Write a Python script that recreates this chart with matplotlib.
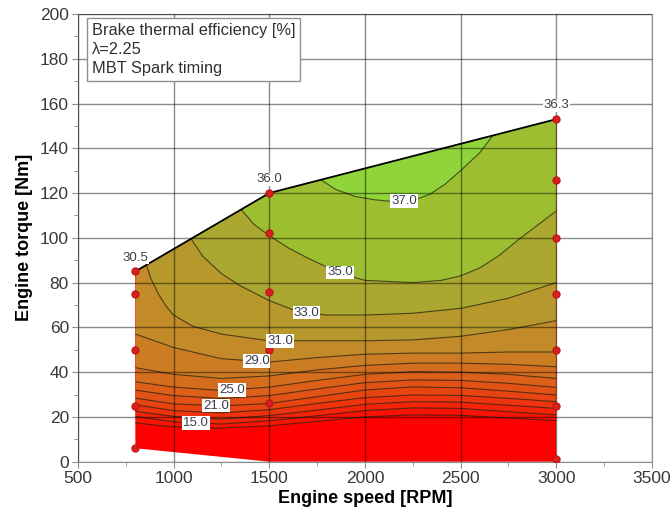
import matplotlib
matplotlib.use("Agg")
import matplotlib.pyplot as plt
from matplotlib.patches import Polygon
from matplotlib.ticker import MultipleLocator
import numpy as np

plt.rcParams['font.family'] = ['Liberation Sans', 'DejaVu Sans']

# measured operating points (torque in Nm at each speed)
tq_800 = [6, 25, 50, 75, 85]
tq_1500 = [26, 50, 76, 102, 120]
tq_3000 = [1, 25, 50, 75, 100, 126, 153]

# full load curve and its efficiency values
wot_rpm = [800, 1500, 3000]
wot_tq = [85, 120, 153]
wot_bte = [30.5, 36.0, 36.3]
# lower edge of the mapped area
low_rpm = [3000, 1500, 800]
low_tq = [0, 0, 6]

# iso-efficiency lines: torque [Nm] vs speed
rpm = [800, 1000, 1250, 1500, 1750, 2000, 2250, 2500, 2750, 3000]
t13 = [17.3, 15.5, 15.0, 16.0, 18.0, 20.0, 20.9, 20.7, 19.5, 18.3]
t15 = [20.2, 17.8, 16.8, 18.3, 20.5, 22.8, 24.0, 23.8, 22.3, 20.9]
t17 = [22.5, 20.2, 19.0, 20.6, 23.0, 25.6, 26.8, 26.6, 25.2, 23.8]
t19 = [25.4, 22.8, 21.8, 23.2, 26.0, 28.6, 29.8, 29.6, 28.3, 26.8]
t21 = [28.4, 25.8, 24.9, 26.0, 29.0, 32.0, 33.4, 33.0, 31.5, 29.8]
t23 = [32.0, 29.5, 28.2, 29.5, 32.5, 35.3, 36.5, 36.3, 35.0, 33.2]
t25 = [35.7, 33.3, 31.8, 33.3, 36.3, 39.0, 40.2, 40.0, 39.0, 37.2]
t27 = [42.0, 39.0, 37.2, 38.3, 41.0, 43.0, 44.0, 44.0, 43.5, 42.4]
t29 = [57.0, 51.0, 46.0, 44.5, 46.5, 48.0, 48.5, 48.5, 49.0, 49.0]
rpm31 = [850, 880, 920, 960, 1000, 1100, 1250, 1500, 1750, 2000, 2250, 2500, 2750, 3000]
t31 = [90, 82, 75, 69.5, 65.5, 60.5, 57, 54, 54, 54, 54.4, 56, 59, 63]
rpm33 = [1080, 1150, 1250, 1350, 1500, 1650, 1800, 2000, 2250, 2500, 2750, 3000]
t33 = [101, 92, 84, 78.5, 72, 67, 65.5, 65.5, 66.3, 68.5, 73, 80]
rpm35 = [1340, 1420, 1500, 1600, 1700, 1800, 1900, 2000, 2250, 2400, 2500, 2600,
         2700, 2800, 2900, 3000]
t35 = [114, 106, 101, 95.5, 91, 87, 83.5, 81, 80, 81, 83, 86.5, 92, 99, 105.5, 112]
rpm37 = [1750, 1850, 1950, 2050, 2150, 2250, 2340, 2420, 2500, 2600, 2690]
t37 = [127, 121.5, 118.5, 117, 116.2, 116.6, 119.5, 124, 130, 138, 148]

levels = [13, 15, 17, 19, 21, 23, 25, 27, 29, 31, 33, 35, 37]
band_colors = ['#ff0000', '#fa1204', '#f4240a', '#ee340e', '#e84412', '#e25216',
               '#dc601a', '#d46e1e', '#cc7c22', '#c28a28', '#b6982c', '#aaa830',
               '#9ebe32', '#8ed43a']

label_levels = [15, 21, 25, 29, 31, 33, 35, 37]
label_rpm = [1117, 1221, 1305, 1435, 1556, 1695, 1870, 2204]

isolines = [(13, rpm, t13), (15, rpm, t15), (17, rpm, t17), (19, rpm, t19),
            (21, rpm, t21), (23, rpm, t23), (25, rpm, t25), (27, rpm, t27),
            (29, rpm, t29), (31, rpm31, t31), (33, rpm33, t33),
            (35, rpm35, t35), (37, rpm37, t37)]

fig = plt.figure(figsize=(6.72, 5.09), dpi=100)
ax = fig.add_axes([0.116, 0.093, 0.854, 0.8795])

# mapped area, filled band by band from low to high efficiency
env = Polygon(np.column_stack([wot_rpm + low_rpm, wot_tq + low_tq]), closed=True,
              facecolor=band_colors[0], edgecolor='none', zorder=1)
ax.add_patch(env)
for i, (lev, r, t) in enumerate(isolines):
    fb = ax.fill_between(r, t, 200, color=band_colors[i + 1], lw=0, zorder=1.1)
    fb.set_clip_path(env)
for lev, r, t in isolines:
    ln, = ax.plot(r, t, color='#2a2010', lw=0.8, alpha=0.75, zorder=1.5)
    ln.set_clip_path(env)

for lev, x in zip(label_levels, label_rpm):
    r, t = [(iso[1], iso[2]) for iso in isolines if iso[0] == lev][0]
    ax.text(x, np.interp(x, r, t), f"{lev:.1f}", ha='center', va='center',
            fontsize=9.5, color='#3c3c4c', zorder=5,
            bbox=dict(facecolor='white', edgecolor='none', pad=0.6))

ax.plot(wot_rpm, wot_tq, color='black', lw=1.3, zorder=3)

for x, tq in [(800, tq_800), (1500, tq_1500), (3000, tq_3000)]:
    ax.plot([x] * len(tq), tq, 'o', color='#d82020', ms=5, mec='#c01818', zorder=4)

for x, t, v in zip(wot_rpm, wot_tq, wot_bte):
    ax.annotate(f"{v:.1f}", (x, t), xytext=(0, 10), textcoords='offset points',
                ha='center', va='center', fontsize=9.5, color='#404040', zorder=5,
                bbox=dict(facecolor='white', edgecolor='none', pad=0.4))

ax.set_xlim(500, 3500)
ax.set_ylim(0, 200)
ax.xaxis.set_major_locator(MultipleLocator(500))
ax.xaxis.set_minor_locator(MultipleLocator(250))
ax.yaxis.set_major_locator(MultipleLocator(20))
ax.yaxis.set_minor_locator(MultipleLocator(10))
ax.set_axisbelow(False)
ax.grid(True, which='major', color='black', alpha=0.45, lw=1)
for sp in ax.spines.values():
    sp.set_color('#8c8c8c')
ax.tick_params(which='both', direction='out', color='#8c8c8c', labelsize=12.5,
               labelcolor='#383838')
ax.tick_params(which='major', length=4, pad=2.5)
ax.tick_params(which='minor', length=3)

ax.set_xlabel('Engine speed [RPM]', fontweight='bold', fontsize=13, labelpad=3)
ax.set_ylabel('Engine torque [Nm]', fontweight='bold', fontsize=13, labelpad=5)

ax.text(0.024, 0.979, 'Brake thermal efficiency [%]\n\u03bb=2.25\nMBT Spark timing',
        transform=ax.transAxes, ha='left', va='top', fontsize=11.8, color='#303030',
        linespacing=1.3, zorder=6,
        bbox=dict(boxstyle='square,pad=0.3', facecolor='white', edgecolor='#909090', lw=1))

fig.savefig('out.png', dpi=100)
